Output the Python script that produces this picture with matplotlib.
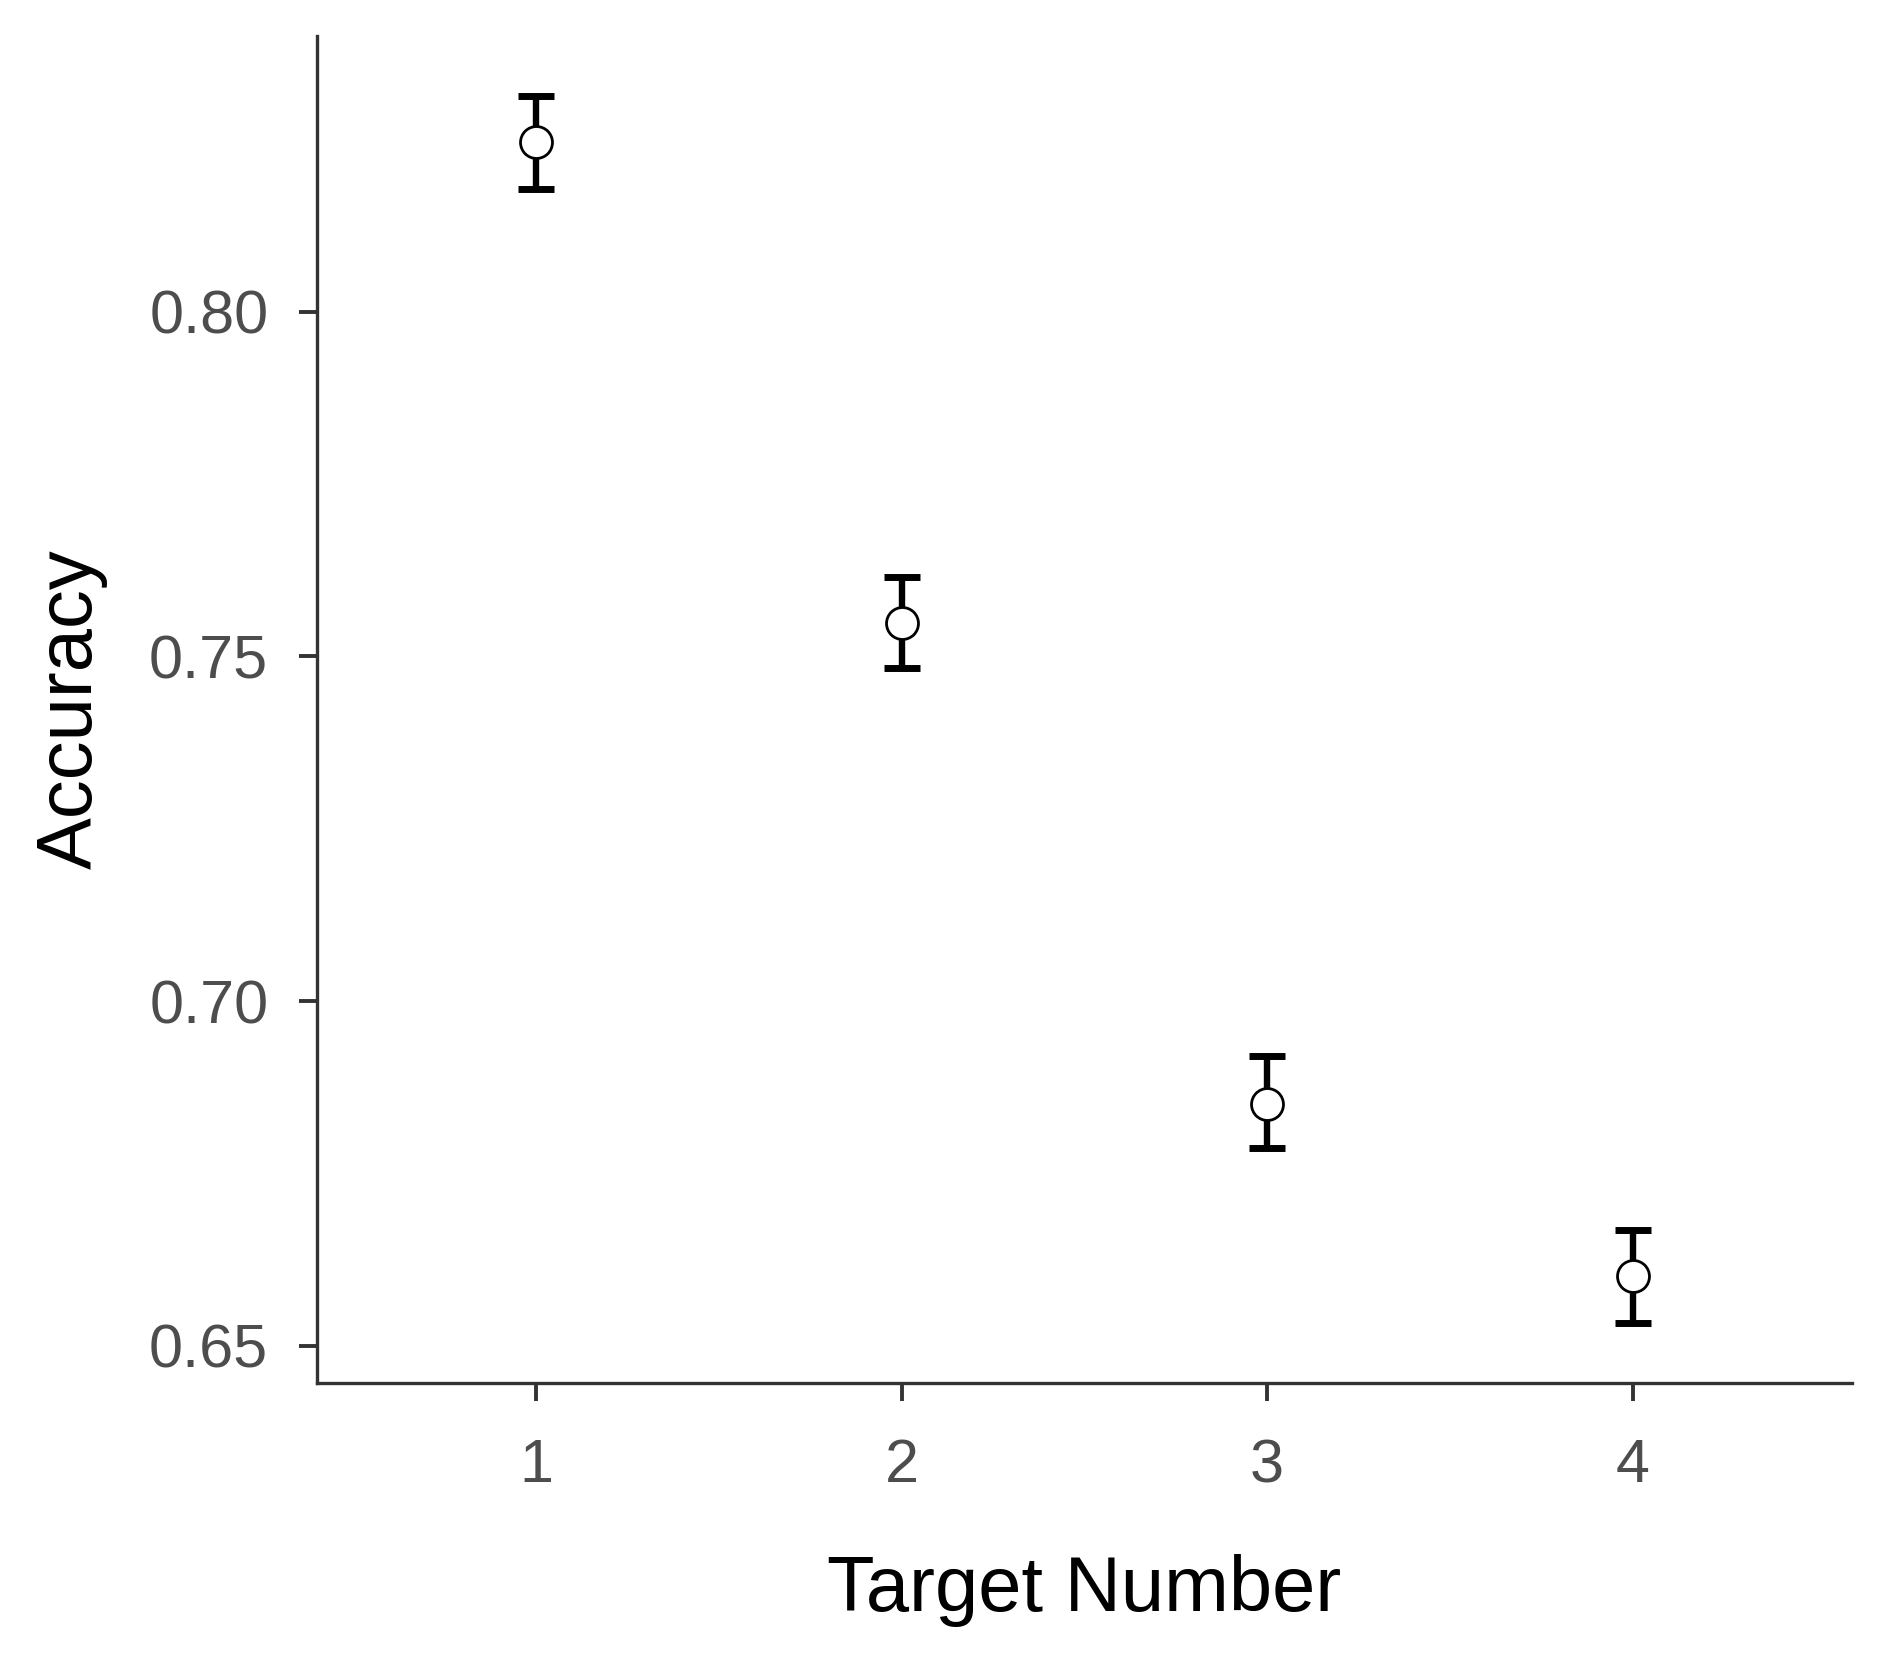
import matplotlib.pyplot as plt

# Accuracy by target number (mean with error bars)
target_number = [1, 2, 3, 4]
tick_labels = ["1", "2", "3", "4"]
accuracy = [0.8247, 0.7549, 0.6850, 0.6601]
err_low = [0.0069, 0.0066, 0.0063, 0.0068]
err_high = [0.0066, 0.0066, 0.0071, 0.0067]

plt.rcParams['font.family'] = ['Liberation Sans', 'DejaVu Sans']

fig = plt.figure(figsize=(18.89, 16.69), dpi=100)
ax = fig.add_axes([0.1678, 0.1714, 0.8126, 0.807])

ax.errorbar(target_number, accuracy, yerr=[err_low, err_high], fmt='none',
            ecolor='black', elinewidth=4.6, capsize=13, capthick=5, zorder=2)
ax.plot(target_number, accuracy, 'o', markersize=23, markerfacecolor='white',
        markeredgecolor='black', markeredgewidth=2, zorder=3)

ax.set_xlim(0.4, 4.6)
ax.set_ylim(0.6446, 0.84)
ax.set_xticks(target_number)
ax.set_xticklabels(tick_labels)
ax.set_yticks([0.65, 0.70, 0.75, 0.80])
ax.set_yticklabels(["0.65", "0.70", "0.75", "0.80"])

for side in ['top', 'right']:
    ax.spines[side].set_visible(False)
for side in ['left', 'bottom']:
    ax.spines[side].set_color('#333333')
    ax.spines[side].set_linewidth(2.4)

ax.tick_params(axis='both', colors='#333333', width=2.8, length=13,
               labelsize=44, labelcolor='#4D4D4D')
ax.tick_params(axis='y', pad=22)
ax.tick_params(axis='x', pad=27)

ax.set_xlabel("Target Number", fontsize=56, color='black', labelpad=42)
ax.set_ylabel("Accuracy", fontsize=56, color='black', labelpad=30)

fig.savefig("out.png", dpi=100)
